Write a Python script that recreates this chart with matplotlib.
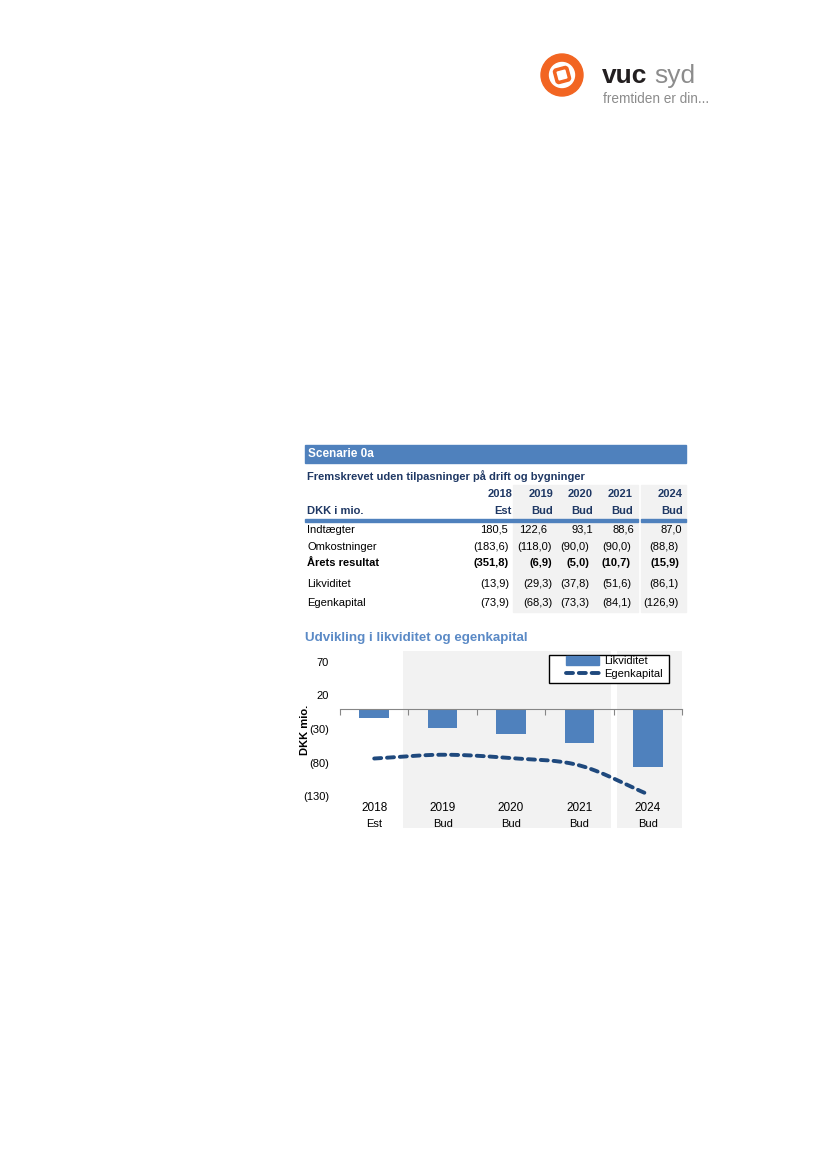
import matplotlib
matplotlib.use('Agg')
import matplotlib.pyplot as plt
import matplotlib.patches as mpatches
import matplotlib.transforms as mtransforms
from matplotlib.lines import Line2D
import numpy as np

plt.rcParams['font.family'] = ['Liberation Sans', 'DejaVu Sans']

# ---------------- data ----------------
years = ['2018', '2019', '2020', '2021', '2024']
kinds = ['Est', 'Bud', 'Bud', 'Bud', 'Bud']
row_labels = ['Indtægter', 'Omkostninger', 'Årets resultat', 'Likviditet', 'Egenkapital']
indtaegter = [180.5, 122.6, 93.1, 88.6, 87.0]
omkostninger = [-183.6, -118.0, -90.0, -90.0, -88.8]
aarets_resultat = [-351.8, -6.9, -5.0, -10.7, -15.9]
likviditet = [-13.9, -29.3, -37.8, -51.6, -86.1]
egenkapital = [-73.9, -68.3, -73.3, -84.1, -126.9]
y_ticks = [70, 20, -30, -80, -130]
table_rows = [indtaegter, omkostninger, aarets_resultat, likviditet, egenkapital]

W, H = 826, 1169
fig = plt.figure(figsize=(W / 100, H / 100), dpi=100)
bg = fig.add_axes([0, 0, 1, 1])
bg.set_xlim(0, W)
bg.set_ylim(H, 0)
bg.axis('off')

NAVY = '#1F3864'
BLUE = '#4F81BD'
DARK = '#1F497D'
GRAY = '#F2F2F2'
ORANGE = '#F26522'

# ---------------- logo ----------------
bg.add_patch(mpatches.Circle((562, 75), 21, color=ORANGE, zorder=2))
bg.add_patch(mpatches.Circle((562, 75), 12.5, color='white', zorder=3))
sq = mpatches.FancyBboxPatch((562 - 7.5, 75 - 7.5), 15, 15,
                             boxstyle='round,pad=0,rounding_size=3', color=ORANGE, zorder=4)
sq.set_transform(mtransforms.Affine2D().rotate_deg_around(562, 75, -15) + bg.transData)
bg.add_patch(sq)
sq2 = mpatches.Rectangle((562 - 4, 75 - 4), 8, 8, color='white', zorder=5)
sq2.set_transform(mtransforms.Affine2D().rotate_deg_around(562, 75, -15) + bg.transData)
bg.add_patch(sq2)
bg.text(602, 83, 'vuc', fontsize=19, fontweight='heavy', color='#231F20', va='baseline', ha='left')
bg.text(654, 83, 'syd', fontsize=19, color='#8C8C8C', va='baseline', ha='left')
bg.text(603, 103, 'fremtiden er din...', fontsize=9.8, color='#8C8C8C', va='baseline', ha='left',
        family=['Liberation Sans Narrow', 'Liberation Sans', 'DejaVu Sans'])

# ---------------- table ----------------
bg.add_patch(mpatches.Rectangle((305, 445), 381, 18, color=BLUE, zorder=1))
bg.text(308, 454, 'Scenarie 0a', fontsize=8.5, fontweight='bold', color='white', va='center', ha='left')
bg.text(307, 476, 'Fremskrevet uden tilpasninger på drift og bygninger', fontsize=8.0,
        fontweight='bold', color=NAVY, va='center', ha='left')
bg.add_patch(mpatches.Rectangle((513, 485), 125, 127, color=GRAY, zorder=0))
bg.add_patch(mpatches.Rectangle((641, 485), 45, 127, color=GRAY, zorder=0))
bg.add_patch(mpatches.Rectangle((305, 518.5), 333, 3, color=BLUE, zorder=1))
bg.add_patch(mpatches.Rectangle((641, 518.5), 45, 3, color=BLUE, zorder=1))

head_right = [512, 553, 593, 633, 683]
for i in range(5):
    bg.text(head_right[i], 494, years[i], fontsize=8, fontweight='bold', color=NAVY, va='center', ha='right')
    bg.text(head_right[i], 511, kinds[i], fontsize=8, fontweight='bold', color=NAVY, va='center', ha='right')
bg.text(307, 511, 'DKK i mio.', fontsize=8, fontweight='bold', color=NAVY, va='center', ha='left')

row_y = [530, 547, 563, 584, 603]
neg_right = [509, 552, 589, 631, 679]
pos_right = [508, 547, 593, 634, 682]


def fmt(v):
    s = f"{abs(v):.1f}".replace('.', ',')
    return f"({s})" if v < 0 else s


for r, (lab, vals) in enumerate(zip(row_labels, table_rows)):
    bold = (r == 2)
    bg.text(307, row_y[r], lab, fontsize=8, fontweight='bold' if bold else 'normal',
            color='black', va='center', ha='left')
    for i, v in enumerate(vals):
        xx = neg_right[i] if v < 0 else pos_right[i]
        bg.text(xx, row_y[r], fmt(v), fontsize=8, fontweight='bold' if bold else 'normal',
                color='black', va='center', ha='right')

# ---------------- chart ----------------
bg.text(305, 638, 'Udvikling i likviditet og egenkapital', fontsize=9.6, fontweight='bold',
        color='#5B8AC6', va='center', ha='left')

ax = fig.add_axes([340 / W, 1 - 828 / H, 342 / W, 177 / H])
ax.set_xlim(-0.5, 4.5)
ax.set_ylim(-177, 85.6)
ax.patch.set_alpha(0)
ax.axvspan(0.42, 3.46, color=GRAY, zorder=0, lw=0)
ax.axvspan(3.55, 4.5, color=GRAY, zorder=0, lw=0)

x = np.arange(len(years))
ax.bar(x, likviditet, width=0.43, color=BLUE, zorder=2, label='Likviditet')


def catmull(xs, ys, n=40):
    px = np.concatenate([[2 * xs[0] - xs[1]], xs, [2 * xs[-1] - xs[-2]]])
    py = np.concatenate([[2 * ys[0] - ys[1]], ys, [2 * ys[-1] - ys[-2]]])
    ox, oy = [], []
    for i in range(1, len(px) - 2):
        t = np.linspace(0, 1, n, endpoint=(i == len(px) - 3))
        for arr, out in ((px, ox), (py, oy)):
            p0, p1, p2, p3 = arr[i - 1], arr[i], arr[i + 1], arr[i + 2]
            out.extend(0.5 * ((2 * p1) + (-p0 + p2) * t + (2 * p0 - 5 * p1 + 4 * p2 - p3) * t ** 2
                              + (-p0 + 3 * p1 - 3 * p2 + p3) * t ** 3))
    return np.array(ox), np.array(oy)


sx, sy = catmull(x.astype(float), np.array(egenkapital, dtype=float))
ax.plot(sx, sy, color=DARK, lw=2.8, dashes=(1.8, 1.5), dash_capstyle='round', zorder=3,
        label='Egenkapital')

for s in ['top', 'right', 'left']:
    ax.spines[s].set_visible(False)
ax.spines['bottom'].set_position(('data', 0))
ax.spines['bottom'].set_color('#868686')
ax.set_xticks(np.arange(-0.5, 5, 1.0))
ax.tick_params(axis='x', length=4, color='#868686', labelbottom=False, direction='out')
ax.set_yticks(y_ticks)
ax.set_yticklabels([str(v) if v >= 0 else f"({abs(v)})" for v in y_ticks], fontsize=8)
ax.tick_params(axis='y', length=0, pad=8)

tr = mtransforms.blended_transform_factory(ax.transData, ax.transAxes)
for i in range(5):
    ax.text(x[i], 0.113, years[i], transform=tr, ha='center', va='center', fontsize=8.5)
    ax.text(x[i], 0.023, kinds[i], transform=tr, ha='center', va='center', fontsize=8)

bg.text(305.5, 730, 'DKK mio.', rotation=90, fontsize=8, fontweight='bold', va='center', ha='center')

# legend with a manual frame drawn on top of the chart
frame = mpatches.Rectangle((549 / W, 1 - 683 / H), 120 / W, 28 / H, transform=fig.transFigure,
                           facecolor='white', edgecolor='black', lw=1.0, zorder=5)
fig.add_artist(frame)
handles = [mpatches.Patch(color=BLUE, label='Likviditet'),
           Line2D([0], [0], color=DARK, lw=2.8, dashes=(1.8, 1.5), dash_capstyle='round',
                  label='Egenkapital')]
leg = fig.legend(handles=handles, loc='upper left', bbox_to_anchor=(566 / W, 1 - 656 / H),
                 fontsize=8, frameon=False, borderpad=0, labelspacing=0.2,
                 handlelength=3.0, handletextpad=0.4, borderaxespad=0, handleheight=0.9)
leg.set_zorder(6)

fig.savefig('out.png', dpi=100)
